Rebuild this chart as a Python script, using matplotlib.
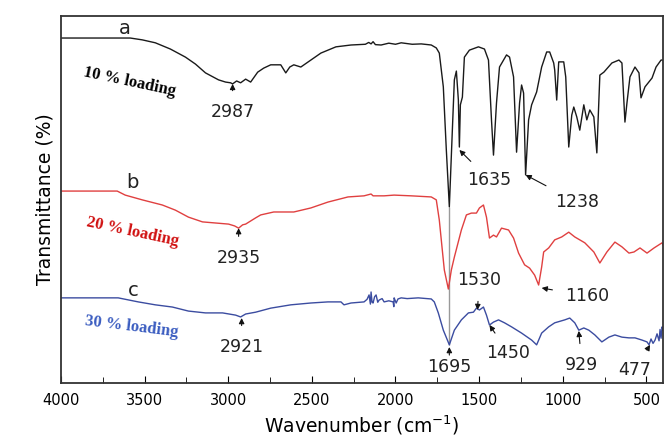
import matplotlib.pyplot as plt
from matplotlib.ticker import MultipleLocator

wn_a = [4000, 3586, 3514, 3436, 3346, 3256, 3196, 3136, 3058, 3016, 2986, 2974, 2950, 2926,
        2896, 2866, 2824, 2788, 2746, 2686, 2656, 2632, 2608, 2566, 2506, 2446, 2356, 2266,
        2180, 2160, 2146, 2134, 2120, 2086, 2040, 2000, 1966, 1900, 1846, 1786, 1756, 1738,
        1714, 1696, 1678, 1660, 1648, 1636,
        1624, 1618, 1612, 1600, 1588, 1558, 1504, 1468, 1444, 1426, 1414, 1396, 1378, 1336,
        1318, 1294, 1276, 1258, 1246, 1234, 1222, 1204, 1186, 1156, 1126, 1096, 1078, 1054,
        1048, 1036, 1024, 994, 982, 964, 946, 934, 916, 898, 874, 856, 838, 814, 796, 778,
        754, 706, 664, 646, 628, 616, 598, 568, 544, 532, 508, 466, 442, 412, 400]
t_a = [94.0, 94.0, 93.5, 92.7, 91.0, 88.8, 86.9, 84.5, 82.6, 82.0, 81.8, 81.5, 82.3, 81.8,
       82.8, 82.0, 84.7, 85.8, 86.7, 86.7, 84.5, 86.1, 86.7, 86.1, 88.0, 89.9, 91.6, 92.1,
       92.3, 92.8, 92.4, 93.0, 92.2, 92.1, 92.6, 92.3, 92.7, 92.3, 92.4, 92.1, 91.3, 89.9,
       80.7, 63.5, 48.0, 68.9, 82.6, 85.0,
       77.1, 64.3, 75.8, 77.9, 88.8, 90.7, 91.6, 91.0, 88.0, 71.7, 62.1, 76.3, 86.1, 89.4,
       88.8, 83.4, 62.9, 76.3, 81.2, 79.0, 56.7, 71.7, 75.8, 79.3, 86.1, 90.2, 90.2, 87.2,
       85.3, 77.1, 87.5, 87.5, 83.4, 64.3, 73.0, 75.2, 72.5, 68.9, 75.8, 71.7, 74.4, 72.5,
       62.7, 83.9, 84.7, 87.2, 88.0, 87.2, 71.1, 76.3, 83.4, 86.1, 84.5, 77.7, 80.7, 83.1,
       86.1, 88.0, 88.0]

wn_b = [4000, 3664, 3616, 3514, 3394, 3316, 3238, 3154, 3076, 2998, 2962, 2938, 2914, 2896,
        2836, 2806, 2728, 2608, 2506, 2404, 2284, 2188, 2146, 2134, 2068, 2008, 1906, 1786,
        1756, 1738, 1720, 1708, 1684, 1666, 1648, 1606, 1576, 1546, 1516, 1498, 1474, 1456,
        1438, 1414, 1396, 1366, 1324, 1294, 1264, 1228, 1198, 1168, 1144, 1126, 1114, 1084,
        1048, 1006, 964, 928, 868, 814, 778, 736, 688, 646, 604, 574, 538, 496, 454, 406, 400]
t_b = [52.3, 52.3, 51.2, 49.9, 48.5, 47.1, 45.2, 43.9, 43.6, 43.3, 42.8, 42.2, 43.1, 43.3,
       45.0, 45.8, 46.6, 46.6, 47.7, 49.3, 50.7, 51.0, 51.5, 51.0, 51.0, 51.2, 51.0, 50.7,
       49.9, 44.4, 36.2, 30.8, 25.6, 30.8, 34.3, 41.7, 45.8, 46.3, 46.3, 47.7, 48.5, 45.2,
       39.5, 40.3, 39.8, 42.2, 41.7, 39.5, 35.4, 32.2, 31.3, 29.4, 26.7, 31.6, 35.7, 36.8,
       39.0, 39.8, 41.1, 39.8, 38.2, 35.7, 32.7, 35.7, 38.4, 37.1, 35.4, 35.7, 36.8, 35.4,
       36.8, 38.2, 37.6]

wn_c = [4000, 3658, 3538, 3436, 3334, 3238, 3136, 3034, 2956, 2926, 2896, 2836, 2746, 2626,
        2506, 2404, 2326, 2308, 2266, 2188, 2170, 2158, 2150, 2146, 2140, 2134, 2125, 2116,
        2106, 2098, 2080, 2068, 2040, 2014, 2010, 2008, 2002, 1996, 1985, 1966, 1930, 1864,
        1786, 1768, 1744, 1714, 1678, 1648, 1606, 1564, 1534, 1516, 1498,
        1474, 1456, 1438, 1414, 1384, 1348, 1306, 1246, 1186, 1156, 1126, 1084, 1048, 988,
        958, 928, 904, 874, 844, 808, 766, 724, 688, 646, 604, 568, 526, 496, 484, 472, 460,
        448, 436, 424, 418, 412, 406, 400]
t_c = [23.2, 23.2, 22.1, 21.3, 20.7, 19.6, 19.1, 19.1, 18.5, 18.0, 18.8, 19.3, 20.4, 21.3,
       21.8, 22.1, 22.1, 21.3, 21.8, 22.1, 22.8, 24.0, 21.5, 24.8, 22.0, 21.8, 23.5, 24.0,
       22.0, 22.6, 23.0, 22.1, 22.4, 22.1, 20.8, 23.2, 22.5, 21.8, 22.9, 23.2, 23.0, 23.2,
       22.9, 22.1, 19.1, 14.4, 10.4, 14.4, 17.2, 19.1, 19.3, 20.4, 19.9,
       20.7, 18.5, 15.8, 16.6, 17.2, 16.4, 15.3, 13.6, 11.7, 10.4, 13.6, 15.3, 16.4, 17.2,
       17.7, 16.4, 14.4, 15.0, 14.4, 13.1, 11.2, 12.5, 13.1, 12.5, 12.3, 12.3, 11.7, 11.2,
       10.4, 12.0, 10.8, 11.7, 13.4, 11.5, 14.6, 12.2, 15.3, 14.4]

peak_main = 1678  # linea guia comun

fig = plt.figure(figsize=(6.66, 4.41), dpi=100)
ax = fig.add_axes([0.0916, 0.1315, 0.904, 0.8322])

ax.vlines(peak_main, min(t_c), min(t_a), color="#999999", lw=1.0, zorder=1)
ax.plot(wn_a, t_a, color="#1a1a1a", lw=1.0)
ax.plot(wn_b, t_b, color="#e04040", lw=1.0)
ax.plot(wn_c, t_c, color="#3b4ca0", lw=1.0)

# Etiquetas de las curvas
ax.text(3616, 96.7, "a", fontsize=14, ha="center", va="center", color="#222222")
ax.text(3574, 54.5, "b", fontsize=14, ha="center", va="center", color="#222222")
ax.text(3568, 25.1, "c", fontsize=14, ha="center", va="center", color="#222222")

serif = dict(family="Liberation Serif", weight="bold", fontsize=12, ha="center", va="center")
ax.text(3592, 82.0, "10 % loading", color="black", rotation=-12, **serif)
ax.text(3570, 41.1, "20 % loading", color="#d01010", rotation=-12, **serif)
ax.text(3580, 15.3, "30 % loading", color="#3a5cc0", rotation=-7, **serif)

# Anotaciones de picos
peaks = [
    ("2987", (2974, 81.5), (2974, 73.8)),
    ("1635", (1618, 63.5), (1438, 55.3)),
    ("1238", (1222, 56.7), (916, 49.3)),
    ("2935", (2938, 42.2), (2938, 34.1)),
    ("1160", (1126, 25.9), (856, 23.7)),
    ("1530", (1510, 19.9), (1498, 28.1)),
    ("1450", (1438, 15.8), (1324, 8.2)),
    ("1695", (1678, 9.8), (1678, 4.4)),
    ("2921", (2920, 17.7), (2920, 9.8)),
    ("929", (904, 14.2), (886, 4.9)),
    ("477", (478, 10.4), (568, 3.5)),
]
for lab, tip, txt in peaks:
    ax.annotate(lab, xy=tip, xytext=txt, fontsize=12.5, ha="center", va="center",
                color="#222222",
                arrowprops=dict(arrowstyle="-|>", color="#111111", lw=0.8,
                                mutation_scale=8, shrinkA=7, shrinkB=0))

ax.set_xlim(4000, 400)
ax.set_ylim(0, 100)
ax.set_yticks([])
ax.xaxis.set_major_locator(MultipleLocator(500))
ax.xaxis.set_minor_locator(MultipleLocator(250))
ax.tick_params(axis="x", which="major", direction="in", length=5, labelsize=10.5, pad=7)
ax.tick_params(axis="x", which="minor", direction="in", length=4)
for s in ax.spines.values():
    s.set_linewidth(1.3)
    s.set_color("#333333")

ax.set_xlabel("Wavenumber (cm$^{-1}$)", fontsize=13.5, labelpad=4)
ax.set_ylabel("Transmittance (%)", fontsize=13.5, labelpad=5)

plt.savefig("out.png", dpi=100)
